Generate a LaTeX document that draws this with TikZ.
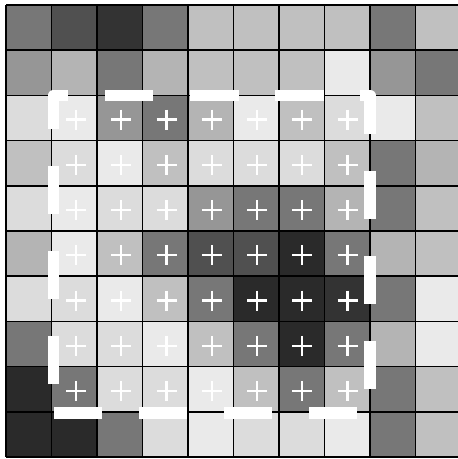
\documentclass[tikz,border=0pt]{standalone}
\definecolor{gA}{RGB}{42,42,42}
\definecolor{gB}{RGB}{51,51,51}
\definecolor{gC}{RGB}{80,80,80}
\definecolor{gD}{RGB}{119,119,119}
\definecolor{gE}{RGB}{150,150,150}
\definecolor{gF}{RGB}{180,180,180}
\definecolor{gG}{RGB}{192,192,192}
\definecolor{gH}{RGB}{220,220,220}
\definecolor{gI}{RGB}{234,234,234}
\tikzset{
  gridline/.style={black, line width=1.6pt},
  plussign/.style={white, line width=2.3pt},
  dashrect/.style={white, line width=11.5pt, line join=round,
    dash pattern=on 48.3pt off 36.74pt, dash phase=56.04pt}
}
\begin{document}
\begin{tikzpicture}[x=1pt,y=-1pt]
\useasboundingbox (0,0) rectangle (458,459);
\clip (0,0) rectangle (458,459);
% cells
\foreach \row [count=\r from 0] in {
  {D,C,B,D,G,G,G,G,D,G},
  {E,F,D,F,G,G,G,I,E,D},
  {H,I,E,D,F,I,G,H,I,G},
  {G,H,I,G,H,H,H,G,D,F},
  {H,I,H,H,E,D,D,F,D,G},
  {F,I,G,D,C,C,A,D,F,G},
  {H,H,I,G,D,A,A,B,D,I},
  {D,H,H,I,G,D,A,D,F,I},
  {A,D,H,H,I,G,D,G,D,G},
  {A,A,D,H,I,H,H,I,D,G}} {
  \foreach \c [count=\k from 0] in \row {
    \fill[g\c] ({6+\k*45.5},{5+\r*45.2}) rectangle ++(45.5,45.2);
  }
}
% grid lines
\foreach \i in {0,...,10} {
  \draw[gridline] ({6+\i*45.5},5) -- ({6+\i*45.5},457);
  \draw[gridline] (6,{5+\i*45.2}) -- (461,{5+\i*45.2});
}
% plus signs
\foreach \i in {0,...,6} {
  \foreach \j in {0,...,6} {
    \coordinate (p\i-\j) at ({76+\i*45.25},{119.5+\j*45.25});
    \draw[plussign] (p\i-\j) +(-10,0) -- +(10,0);
    \draw[plussign] (p\i-\j) +(0,-10) -- +(0,10);
  }
}
% dashed rectangle
\coordinate (bl) at (53.5,413);
\coordinate (tl) at (53.5,95.5);
\coordinate (tr) at (370,95.5);
\coordinate (br) at (370,413);
\draw[dashrect] (bl) -- (tl) -- (tr) -- (br) -- cycle;
\end{tikzpicture}
\end{document}
